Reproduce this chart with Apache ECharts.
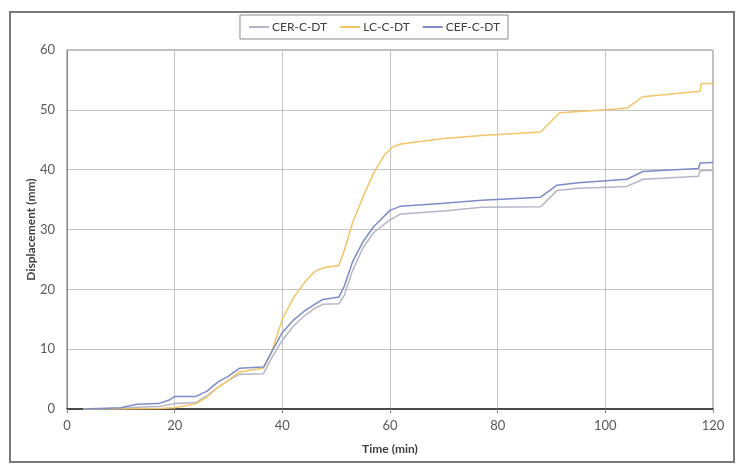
<!DOCTYPE html>
<html><head><meta charset="utf-8">
<script src="https://cdn.jsdelivr.net/npm/echarts@6/dist/echarts.min.js"></script>
<style>html,body{margin:0;padding:0;background:#fff}#c{width:748px;height:475px}</style>
</head><body><div id="c"></div>
<script>
const seriesNames = ['CER-C-DT', 'LC-C-DT', 'CEF-C-DT'];
const cerData = [[3,0],[10,0.1],[13,0.3],[17,0.4],[20,0.9],[24,1.1],[26,2.2],[28,3.6],[30,4.8],[32,5.8],[36.5,5.9],[38,8.5],[40,11.5],[42,13.8],[44,15.5],[46,16.8],[47.5,17.5],[50.5,17.6],[51.5,19],[53,23],[55,27],[57,29.5],[60,31.6],[62,32.6],[70,33.1],[77,33.7],[88,33.8],[91,36.5],[95,36.9],[104,37.2],[107,38.4],[117.3,38.9],[117.6,39.8],[120,39.9]];
const lcData = [[3,0],[10,0],[17,0.1],[20,0.2],[24,0.9],[26,2],[28,3.6],[30,4.8],[32,6.2],[36.5,6.8],[38,9.5],[40,15],[42,18.5],[44,21],[46,23],[48,23.7],[50.5,24],[51.5,26.5],[53,31],[55,35.5],[57,39.5],[59,42.5],[60.5,43.8],[62,44.3],[70,45.2],[77,45.7],[88,46.3],[91.5,49.5],[100,50],[104,50.3],[107,52.2],[117.6,53.1],[117.8,54.4],[120,54.4]];
const cefData = [[3,0],[10,0.2],[13,0.8],[17,0.9],[19,1.5],[20,2.1],[24,2.1],[26,3],[28,4.5],[30,5.5],[32,6.8],[36.5,7.0],[38,9.5],[40,12.8],[42,14.8],[44,16.3],[46,17.5],[47.5,18.3],[50.5,18.7],[51.5,20.5],[53,24.5],[55,28],[57,30.5],[60,33.2],[62,33.9],[70,34.4],[77,34.9],[88,35.4],[91,37.4],[95,37.8],[104,38.4],[107,39.7],[117.3,40.2],[117.6,41.1],[120,41.2]];
const colors = ['#b4b6c8', '#f3c567', '#7d8cc8'];
const font = 'Lato, "Open Sans", sans-serif';

const chart = echarts.init(document.getElementById('c'), null, {renderer: 'canvas'});
const datasets = [cerData, lcData, cefData];
chart.setOption({
  animation: false,
  backgroundColor: '#fff',
  graphic: [{
    type: 'rect', shape: {x: 10, y: 12, width: 724, height: 450},
    style: {fill: 'none', stroke: '#7a7a7a', lineWidth: 2}, z: -1
  }],
  legend: {
    data: seriesNames, top: 15, left: 'center',
    borderColor: '#8a8a8a', borderWidth: 1, padding: [6, 8, 6, 8],
    itemWidth: 20, itemHeight: 2, itemGap: 12,
    textStyle: {fontFamily: font, fontSize: 12, color: '#404040', padding: [0, 0, 0, -2]}
  },
  grid: {left: 67, right: 35, top: 50, bottom: 66, show: true, borderColor: '#7f7f7f', borderWidth: 1},
  xAxis: {
    type: 'value', min: 0, max: 120, interval: 20,
    name: 'Time (min)', nameLocation: 'middle', nameGap: 34,
    nameTextStyle: {fontFamily: font, fontSize: 12, fontWeight: 'bold', color: '#404040'},
    axisLine: {lineStyle: {color: '#222', width: 1.5}},
    axisTick: {show: true, length: 4, lineStyle: {color: '#888'}},
    axisLabel: {fontFamily: font, fontSize: 13, color: '#595959', margin: 10},
    splitLine: {lineStyle: {color: '#c4c4c4'}}
  },
  yAxis: {
    type: 'value', min: 0, max: 60, interval: 10,
    name: 'Displacement (mm)', nameLocation: 'middle', nameGap: 30, nameMoveOverlap: false,
    nameTextStyle: {fontFamily: font, fontSize: 12, fontWeight: 'bold', color: '#404040'},
    axisLine: {show: true, lineStyle: {color: '#888'}},
    axisTick: {show: false},
    axisLabel: {fontFamily: font, fontSize: 13, color: '#595959', margin: 12},
    splitLine: {lineStyle: {color: '#c4c4c4'}}
  },
  series: seriesNames.map((n, i) => ({
    name: n, type: 'line', data: datasets[i], symbol: 'none',
    lineStyle: {color: colors[i], width: 1.5}, itemStyle: {color: colors[i]}
  }))
});
</script></body></html>
